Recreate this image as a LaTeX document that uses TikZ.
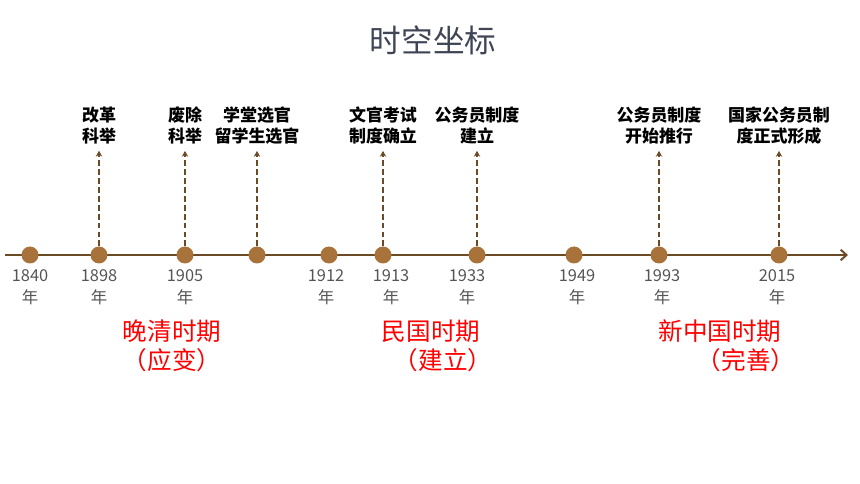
\documentclass[tikz,border=0pt]{standalone}
\usepackage{fontspec}
\setmainfont{Noto Sans CJK SC}
\usetikzlibrary{arrows.meta}
\definecolor{axisbrown}{HTML}{6B4A26}
\definecolor{dotbrown}{HTML}{A8733A}
\definecolor{titlegray}{HTML}{404555}
\definecolor{yeargray}{HTML}{555555}
\definecolor{erared}{HTML}{FF0000}
\begin{document}
\begin{tikzpicture}[x=0.03cm,y=-0.03cm,
	dot/.style={circle,fill=dotbrown,minimum size=0.51cm,inner sep=0pt},
	year/.style={text=yeargray,font=\fontsize{14}{18.7}\selectfont,align=center},
	event/.style={font=\bfseries\fontsize{14.5}{17.9}\selectfont,align=center,inner sep=2pt},
	era/.style={text=erared,font=\fontsize{21}{24}\selectfont},
	rise/.style={axisbrown,line width=1.5pt,dash pattern=on 5pt off 2.6pt,shorten >=3.5pt,-{Stealth[length=5pt,width=5.5pt]}}]
	\useasboundingbox (0,0) rectangle (860,484);
	\node[text=titlegray,font=\fontsize{27}{30}\selectfont] (title) at (433,40) {时空坐标};
	% axis
	\coordinate (axstart) at (5,255);
	\coordinate (axend) at (848,255);
	\draw[axisbrown,line width=1.7pt,-{Straight Barb[length=5pt,width=9pt]}] (axstart) -- (axend);
	% dots
	\foreach \n/\x in {a/30,b/99,c/185,d/257,e/329,f/383,g/477,h/574,i/659,j/779}
		\node[dot] (d\n) at (\x,255) {};
	% years
	\foreach \n/\x/\yr in {a/30/1840,b/99/1898,c/185/1905,e/326/1912,f/391/1913,g/467/1933,h/577/1949,i/662/1993,j/777/2015}
		\node[year] (y\n) at (\x,287) {\yr\\年};
	% events
	\node[event] (eb) at (99,125.5) {改革\\科举};
	\node[event] (ec) at (185,125.5) {废除\\科举};
	\node[event] (ed) at (257,125.5) {学堂选官\\留学生选官};
	\node[event] (ef) at (383,125.5) {文官考试\\制度确立};
	\node[event] (eg) at (477,125.5) {公务员制度\\建立};
	\node[event] (ei) at (659,125.5) {公务员制度\\开始推行};
	\node[event] (ej) at (779,125.5) {国家公务员制\\度正式形成};
	\foreach \n in {b,c,d,f,g,i,j}
		\draw[rise] (d\n.north) -- (e\n.south);
	% eras
	\node[era] (era1) at (172,331) {晚清时期};
	\node[era] (era1b) at (172,360) {（应变）};
	\node[era] (era2) at (431,331) {民国时期};
	\node[era] (era2b) at (443,360) {（建立）};
	\node[era] (era3) at (720,331) {新中国时期};
	\node[era] (era3b) at (746,360) {（完善）};
\end{tikzpicture}
\end{document}
